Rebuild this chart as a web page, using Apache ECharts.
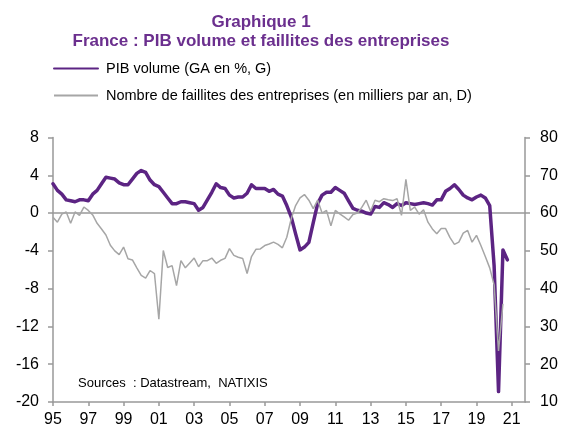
<!DOCTYPE html>
<html>
<head>
<meta charset="utf-8">
<script src="https://cdn.jsdelivr.net/npm/echarts@6/dist/echarts.min.js"></script>
<style>
html, body { margin: 0; padding: 0; background: #fff; }
#chart { width: 564px; height: 430px; }
</style>
</head>
<body>
<div id="chart"></div>
<script>
// années de l'axe (trimestriel, 1995T1 -> 2021T4)
const years = [1995, 1996, 1997, 1998, 1999, 2000, 2001, 2002, 2003, 2004, 2005, 2006, 2007,
	2008, 2009, 2010, 2011, 2012, 2013, 2014, 2015, 2016, 2017, 2018, 2019, 2020, 2021]
const quarters = []
years.forEach(y => {
	for (let q = 1; q <= 4; q++) quarters.push(y + "T" + q)
})

// PIB volume, GA en % (axe gauche)
const pibVolume = [
	3.1, 2.4, 2.0, 1.4, 1.3, 1.2, 1.4, 1.4, 1.3, 2.0, 2.4, 3.1,
	3.8, 3.7, 3.6, 3.2, 3.0, 3.0, 3.6, 4.2, 4.5, 4.3, 3.5, 3.0,
	2.8, 2.2, 1.6, 1.0, 1.0, 1.2, 1.2, 1.1, 1.0, 0.3, 0.6, 1.4,
	2.2, 3.1, 2.7, 2.6, 1.9, 1.6, 1.7, 1.7, 2.1, 3.0, 2.6, 2.6,
	2.6, 2.3, 2.5, 2.0, 1.8, 0.8, -0.4, -2.2, -3.9, -3.6, -3.1, -1.0,
	1.0, 1.9, 2.2, 2.2, 2.7, 2.4, 2.1, 1.3, 0.5, 0.3, 0.2, 0.0,
	-0.1, 0.7, 0.6, 1.1, 0.9, 0.6, 1.0, 0.8, 1.1, 1.0, 0.9, 1.0,
	1.1, 1.0, 0.85, 1.4, 1.4, 2.3, 2.6, 3.0, 2.5, 1.9, 1.6, 1.4,
	1.7, 1.9, 1.6, 0.8, -5.6, -18.9, -3.9, -4.95
]

// Nombre de faillites des entreprises, milliers par an (axe droit)
const faillites = [
	58.9, 57.6, 59.7, 60.3, 57.3, 60.3, 59.4, 61.6, 60.7, 59.5, 57.3, 55.8,
	54.2, 51.5, 50.0, 49.0, 51.0, 47.9, 47.6, 45.5, 43.5, 42.8, 44.8, 44.0,
	31.9, 50.1, 45.6, 46.1, 40.8, 47.4, 45.5, 46.8, 48.1, 45.8, 47.4, 47.4,
	48.1, 46.7, 47.5, 48.0, 50.6, 48.8, 48.3, 48.0, 44.0, 48.5, 50.4, 50.5,
	51.4, 51.8, 52.3, 51.7, 50.8, 53.6, 58.5, 62.0, 64.0, 64.9, 63.4, 61.2,
	63.4, 60.0, 60.7, 56.6, 60.7, 59.8, 59.0, 58.1, 59.6, 60.0, 61.5, 63.4,
	60.5, 63.4, 63.0, 63.8, 63.5, 63.3, 63.8, 59.4, 68.9, 60.7, 61.6, 59.7,
	60.9, 57.6, 55.8, 54.5, 55.9, 55.9, 53.5, 51.7, 52.3, 54.7, 55.4, 52.3,
	54.1, 51.4, 48.5, 45.5, 41.0, 23.5, 36.0
]

const leftTicks = { min: -20, max: 8, interval: 4 }
const rightTicks = { min: 10, max: 80, interval: 10 }

const font = "Liberation Sans, Arial, sans-serif"
const purple = "#5c2483"
const grey = "#a6a6a6"
const axisGrey = "#999"

let chart = echarts.init(document.getElementById("chart"))

let option = {
	backgroundColor: "#fff",
	animation: false,
	textStyle: { fontFamily: font },
	grid: {
		left: 53,
		right: 39,
		top: 137.5,
		height: 264.5
	},
	legend: {
		orient: "vertical",
		left: 53,
		top: 61,
		padding: 0,
		itemWidth: 44,
		itemHeight: 14,
		itemGap: 12,
		itemStyle: { opacity: 0 },
		textStyle: { fontSize: 14.5, color: "#000", fontFamily: font, padding: [0, 0, 0, 3] },
		data: ["PIB volume (GA en %, G)", "Nombre de faillites des entreprises (en milliers par an, D)"]
	},
	graphic: [
		{
			type: "text",
			x: 261,
			y: 22,
			style: {
				text: "Graphique 1",
				fill: "#6b2f8e",
				font: "bold 17px " + font,
				align: "center",
				verticalAlign: "middle"
			}
		},
		{
			type: "text",
			x: 261,
			y: 41,
			style: {
				text: "France : PIB volume et faillites des entreprises",
				fill: "#6b2f8e",
				font: "bold 17px " + font,
				align: "center",
				verticalAlign: "middle"
			}
		},
		{
			type: "text",
			x: 78,
			y: 383,
			style: {
				text: "Sources  : Datastream,  NATIXIS",
				fill: "#000",
				font: "13px " + font,
				align: "left",
				verticalAlign: "middle"
			}
		}
	],
	xAxis: [
		{
			type: "category",
			data: quarters,
			boundaryGap: false,
			axisLine: { onZero: false, lineStyle: { color: axisGrey, width: 1.5 } },
			axisTick: {
				show: true,
				length: 4,
				interval: (i) => i % 8 === 0,
				lineStyle: { color: axisGrey, width: 1.5 }
			},
			axisLabel: {
				interval: (i) => i % 8 === 0,
				formatter: (v) => v.slice(2, 4),
				color: "#000",
				fontSize: 16,
				margin: 10,
				fontFamily: font
			},
			splitLine: { show: false }
		},
		{
			// ligne du zéro
			type: "category",
			data: quarters,
			boundaryGap: false,
			position: "bottom",
			axisLine: { onZero: true, onZeroAxisIndex: 0, lineStyle: { color: axisGrey, width: 1.5 } },
			axisTick: { show: false },
			axisLabel: { show: false },
			splitLine: { show: false }
		}
	],
	yAxis: [
		{
			type: "value",
			min: leftTicks.min,
			max: leftTicks.max,
			interval: leftTicks.interval,
			position: "left",
			axisLine: { show: true, lineStyle: { color: axisGrey, width: 1.5 } },
			axisTick: { show: true, length: 5, lineStyle: { color: axisGrey, width: 1.5 } },
			axisLabel: { color: "#000", fontSize: 16, margin: 14, fontFamily: font },
			splitLine: { show: false }
		},
		{
			type: "value",
			min: rightTicks.min,
			max: rightTicks.max,
			interval: rightTicks.interval,
			position: "right",
			axisLine: { show: true, lineStyle: { color: axisGrey, width: 1.5 } },
			axisTick: { show: true, length: 5, lineStyle: { color: axisGrey, width: 1.5 } },
			axisLabel: { color: "#000", fontSize: 16, margin: 15, fontFamily: font },
			splitLine: { show: false }
		}
	],
	series: [
		{
			name: "PIB volume (GA en %, G)",
			type: "line",
			xAxisIndex: 0,
			yAxisIndex: 0,
			data: pibVolume,
			symbol: "none",
			lineStyle: { color: purple, width: 3.5, join: "round", cap: "round" },
			itemStyle: { color: purple },
			z: 3
		},
		{
			name: "Nombre de faillites des entreprises (en milliers par an, D)",
			type: "line",
			xAxisIndex: 0,
			yAxisIndex: 1,
			data: faillites,
			symbol: "none",
			lineStyle: { color: grey, width: 1.5 },
			itemStyle: { color: grey },
			z: 4
		}
	]
}

chart.setOption(option)
</script>
</body>
</html>
